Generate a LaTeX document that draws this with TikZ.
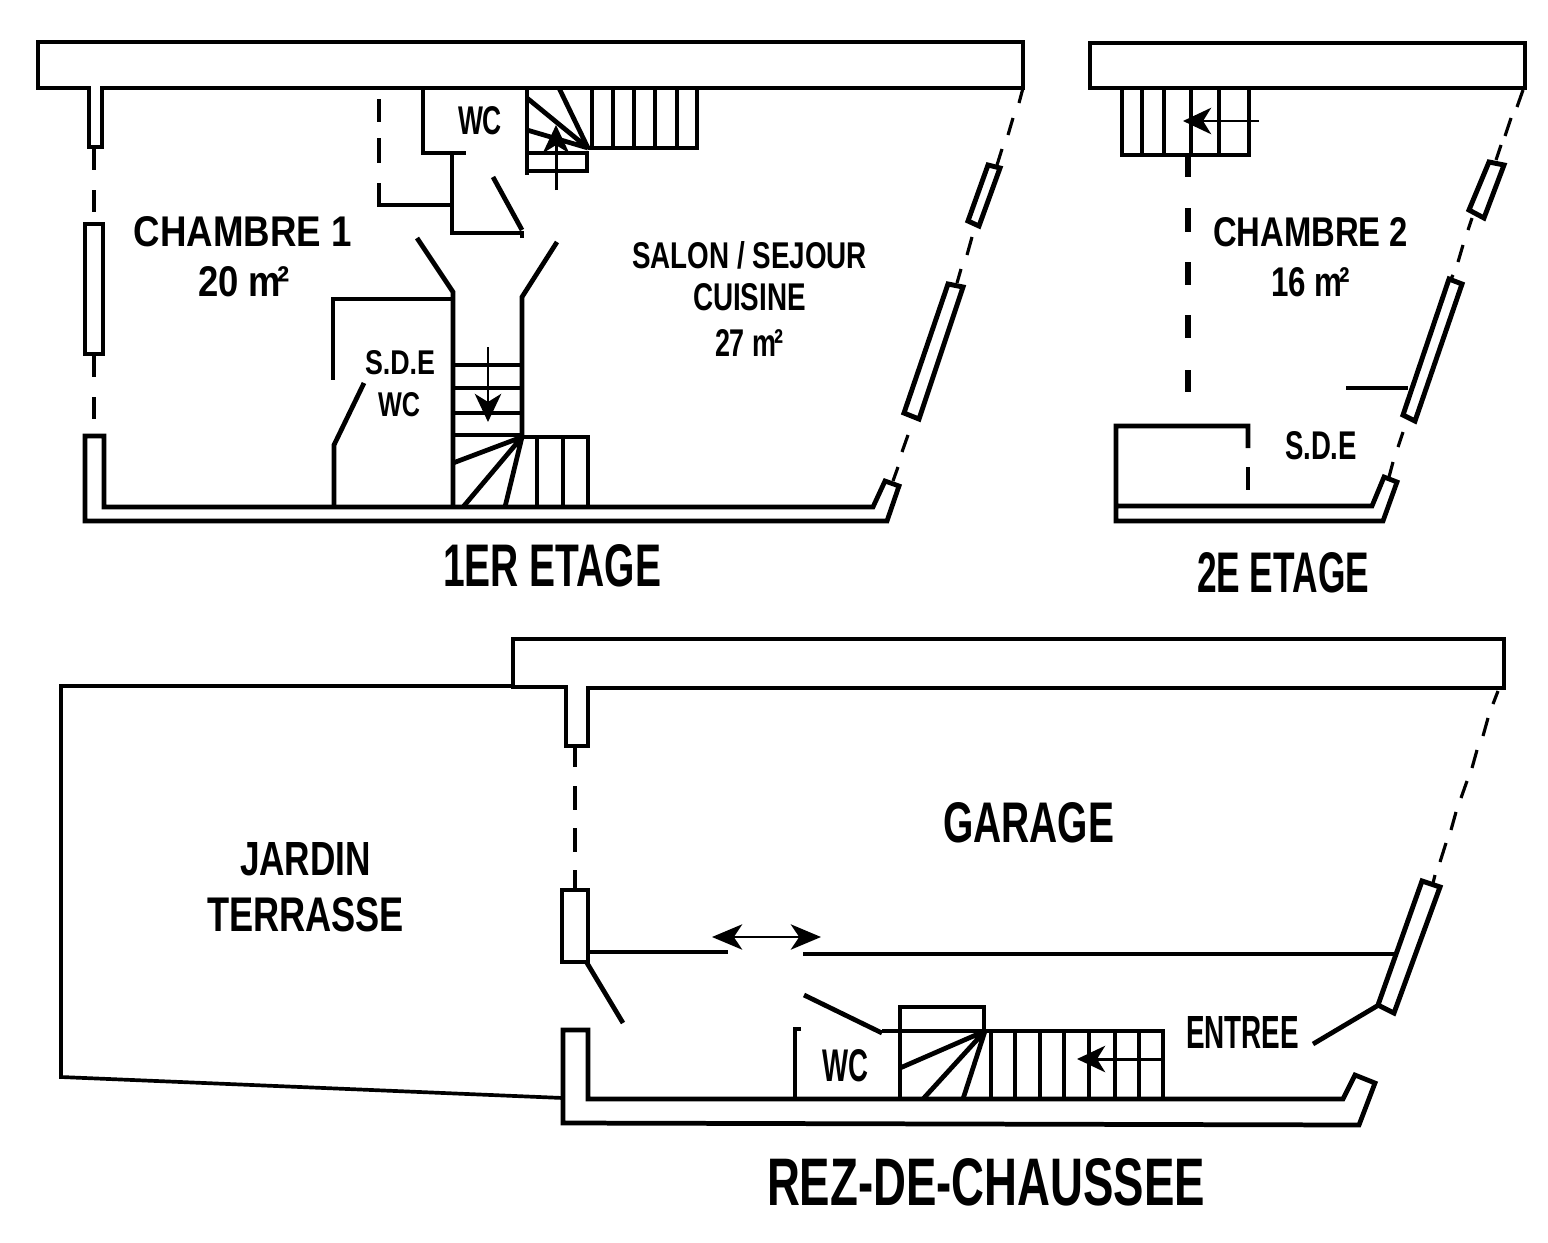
\documentclass[tikz,border=0pt]{standalone}
\usepackage{fontspec}
\usetikzlibrary{arrows.meta}
\setmainfont{Liberation Sans}
\newlength{\pxu}
\setlength{\pxu}{0.01cm}
\newcommand{\fitted}[3]{\resizebox{#1\pxu}{#2\pxu}{\textbf{#3}}}
\newcommand{\sqm}{m\kern-0.09em²}
\tikzset{
    wall/.style={line width=1.35pt, line join=miter},
    partition/.style={line width=1.05pt},
    dashline/.style={line width=0.9pt},
    heavydash/.style={line width=1.5pt},
    glazing/.style={line width=1.4pt, line join=miter},
    flight/.style={line width=0.85pt, -{Stealth[length=8pt, width=7.5pt, inset=2.3pt]}},
    lab/.style={inner sep=0pt, outer sep=0pt}
}

\begin{document}
\begin{tikzpicture}[x=0.01cm, y=-0.01cm]
    \useasboundingbox (0,0) rectangle (1548,1242);

    \coordinate (upturn) at (588,148);
    \coordinate (downturn) at (522,437);
    \coordinate (rdcturn) at (985,1031);

    \draw [wall] (1023,88) -- (1023,42) -- (38,42) -- (38,88) -- (89,88) -- (89,147) -- (102,147) -- (102,88) -- cycle;
    \draw [wall] (85,521) -- (85,436) -- (104,436) -- (104,507) -- (873,507) -- (885,481) -- (899,486) -- (887,521) -- cycle;
    \draw [wall] (85,224) rectangle (103,354);
    \draw [dashline] (94,147) -- (94,170) (94,190) -- (94,212) (94,354) -- (94,377) (94,397) -- (94,419);
    \draw [glazing] (988,165) -- (1000,168) -- (979,226) -- (968,221) -- cycle;
    \draw [glazing] (948,284) -- (963,287) -- (919,419) -- (904,413) -- cycle;
    \draw [dashline] (1023,88) -- (1019,103) (1013,118) -- (1008,135) (1002,149) -- (997,165);
    \draw [dashline] (972,237) -- (967,255) (961,269) -- (957,283);
    \draw [dashline] (908,435) -- (902,452) (898,467) -- (893,481);

    \draw [partition] (379,99) -- (379,122) (379,138) -- (379,163);
    \draw [partition] (379,183) -- (379,205) -- (452,205);
    \draw [wall] (423,88) -- (423,153) -- (466,153);
    \draw [wall] (452,153) -- (452,233) -- (522,233) -- (522,238);
    \draw [wall] (493,177) -- (522,230);
    \draw [wall] (527,88) -- (527,175);
    \draw [wall] (527,153) -- (587,153) -- (587,171) -- (527,171);
    \draw [wall] (527,98) -- (upturn) (527,130) -- (upturn) (559,88) -- (upturn);
    \draw [wall] (upturn) -- (697,148) -- (697,88);
    \draw [wall] (592,88) -- (592,148) (613,88) -- (613,148) (634,88) -- (634,148) (655,88) -- (655,148) (677,88) -- (677,148);
    \draw [flight] (556,190) -- (556,125);

    \draw [wall] (417,238) -- (453,292) -- (453,507);
    \draw [wall] (557,242) -- (522,297) -- (downturn);
    \draw [wall] (453,299) -- (333,299) -- (333,380);
    \draw [wall] (364,383) -- (334,445) -- (334,507);
    \draw [wall] (453,365) -- (522,365) (453,388) -- (522,388) (453,413) -- (522,413) (453,435) -- (522,435);
    \draw [wall] (downturn) -- (588,437) -- (588,507);
    \draw [wall] (537,437) -- (537,507) (563,437) -- (563,507);
    \draw [wall] (453,463) -- (downturn) (463,507) -- (downturn) (505,507) -- (downturn);
    \draw [flight] (488,347) -- (488,422);

    \draw [wall] (1525,88) -- (1525,43) -- (1090,43) -- (1090,88) -- cycle;
    \draw [wall] (1122,88) -- (1122,155) -- (1249,155) -- (1249,88);
    \draw [wall] (1142,88) -- (1142,155) (1164,88) -- (1164,155) (1191,88) -- (1191,155) (1219,88) -- (1219,155);
    \draw [flight] (1259,121) -- (1183,121);
    \draw [heavydash] (1188,155) -- (1188,177) (1188,208) -- (1188,232) (1188,262) -- (1188,285) (1188,315) -- (1188,338) (1188,370) -- (1188,392);
    \draw [wall] (1248,448) -- (1248,426) -- (1116,426) -- (1116,521) -- (1383,521) -- (1397,482) -- (1384,477) -- (1372,506) -- (1116,506);
    \draw [partition] (1248,467) -- (1248,490);
    \draw [glazing] (1489,162) -- (1504,165) -- (1484,218) -- (1469,210) -- cycle;
    \draw [glazing] (1449,279) -- (1462,284) -- (1415,421) -- (1403,415) -- cycle;
    \draw [dashline] (1523,90) -- (1517,107) (1511,118) -- (1505,136) (1501,145) -- (1496,160);
    \draw [dashline] (1472,218) -- (1468,230) (1463,245) -- (1458,262) (1453,275) -- (1451,279);
    \draw [dashline] (1403,432) -- (1398,447) (1393,462) -- (1389,477);
    \draw [partition] (1346,388) -- (1408,388);

    \draw [wall] (513,687) -- (513,639) -- (1504,639) -- (1504,688) -- (588,688) -- (588,746) -- (566,746) -- (566,687) -- cycle;
    \draw [partition] (513,686) -- (61,686) -- (61,1077) -- (563,1098);
    \draw [dashline] (575,746) -- (575,767) (575,786) -- (575,810) (575,828) -- (575,852) (575,870) -- (575,890);
    \draw [wall] (562,890) rectangle (588,962);
    \draw [wall] (588,952) -- (728,952);
    \draw [wall] (803,954) -- (1395,954);
    \draw [wall] (587,963) -- (623,1023);
    \draw [line width=0.7pt, {Stealth[length=8.6pt, width=7.2pt, inset=2.4pt]}-{Stealth[length=8.6pt, width=7.2pt, inset=2.4pt]}] (712,937) -- (821,937);
    \draw [wall] (563,1123) -- (563,1030) -- (588,1030) -- (588,1099) -- (1343,1099) -- (1355,1075) -- (1375,1083) -- (1359,1125) -- cycle;
    \draw [wall] (801,1029) -- (795,1029) -- (795,1099);
    \draw [wall] (804,995) -- (882,1033);
    \draw [wall] (882,1031) -- (rdcturn);
    \draw [wall] (900,1099) -- (900,1007) -- (984,1007) -- (984,1031);
    \draw [wall] (900,1068) -- (rdcturn) (923,1099) -- (rdcturn) (963,1099) -- (rdcturn);
    \draw [wall] (rdcturn) -- (1163,1031) -- (1163,1099);
    \draw [wall] (991,1031) -- (991,1099) (1015,1031) -- (1015,1099) (1040,1031) -- (1040,1099) (1064,1031) -- (1064,1099) (1089,1031) -- (1089,1099) (1115,1031) -- (1115,1099) (1139,1031) -- (1139,1099);
    \draw [flight] (1163,1059) -- (1077,1059);
    \draw [wall] (1313,1044) -- (1377,1006);
    \draw [glazing] (1422,881) -- (1440,887) -- (1394,1013) -- (1378,1005) -- cycle;
    \draw [dashline] (1498,691) -- (1493,704) (1488,718) -- (1483,736) (1477,750) -- (1472,768) (1467,781) -- (1461,798) (1456,812) -- (1451,830) (1446,843) -- (1440,862) (1435,875) -- (1433,883);

    \node [lab] (chambreone) at (243,232) {\fitted{218}{30}{CHAMBRE 1}};
    \node [lab] (chambreonearea) at (244,282) {\fitted{92}{30}{20 \sqm}};
    \node [lab] (salon) at (749.5,255) {\fitted{235}{27}{SALON / SEJOUR}};
    \node [lab] (cuisine) at (749.5,297.5) {\fitted{113}{27}{CUISINE}};
    \node [lab] (salonarea) at (749,342.5) {\fitted{68}{27}{27 \sqm}};
    \node [lab] (wcup) at (480,121) {\fitted{44}{28}{WC}};
    \node [lab] (sdeup) at (400,363) {\fitted{70}{24}{S.D.E}};
    \node [lab] (wcsde) at (399,405) {\fitted{42}{24}{WC}};
    \node [lab] (etageone) at (552,566) {\fitted{218}{42}{1ER ETAGE}};
    \node [lab] (chambretwo) at (1310.5,232.5) {\fitted{195}{29}{CHAMBRE 2}};
    \node [lab] (chambretwoarea) at (1310.5,282.5) {\fitted{79}{29}{16 \sqm}};
    \node [lab] (sdetop) at (1321,446) {\fitted{72}{28}{S.D.E}};
    \node [lab] (etagetwo) at (1283,573) {\fitted{172}{40}{2E ETAGE}};
    \node [lab] (jardin) at (305.5,859.5) {\fitted{131}{33}{JARDIN}};
    \node [lab] (terrasse) at (305.5,915) {\fitted{197}{34}{TERRASSE}};
    \node [lab] (garage) at (1028.5,823) {\fitted{171}{40}{GARAGE}};
    \node [lab] (wcrdc) at (845,1066) {\fitted{46}{32}{WC}};
    \node [lab] (entree) at (1242.5,1032) {\fitted{113}{32}{ENTREE}};
    \node [lab] (rezdechaussee) at (986,1182.5) {\fitted{438}{47}{REZ-DE-CHAUSSEE}};
\end{tikzpicture}
\end{document}
